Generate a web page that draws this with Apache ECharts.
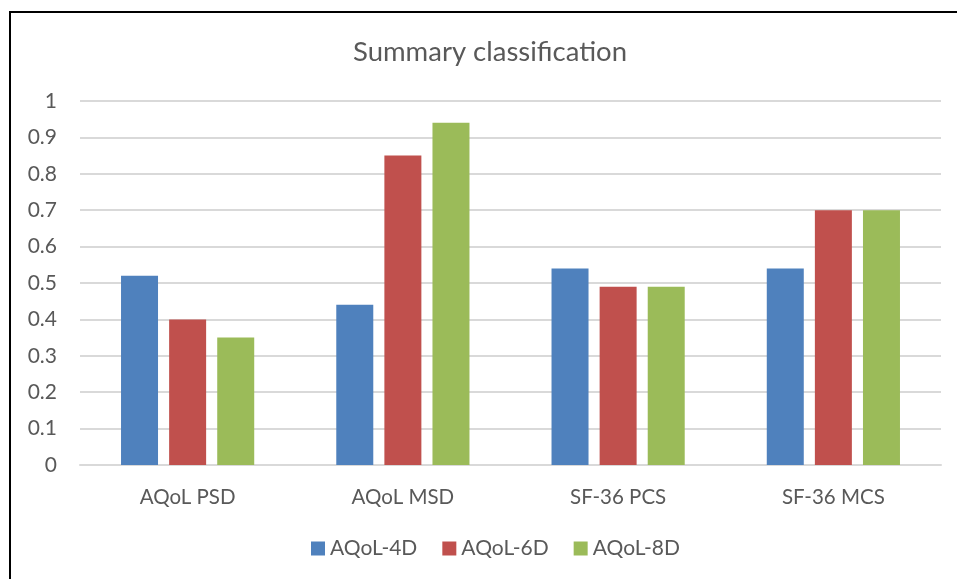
<!DOCTYPE html>
<html><head><meta charset="utf-8">
<script src="https://cdn.jsdelivr.net/npm/echarts@6/dist/echarts.min.js"></script>
<style>
html,body{margin:0;padding:0;background:#fff;overflow:hidden}
#frame{position:absolute;left:9px;top:11px;width:1000px;height:1000px;border-left:2px solid #000;border-top:2px solid #000}
#chart{position:absolute;left:0;top:0;width:957px;height:579px}
</style></head>
<body>
<div id="frame"></div>
<div id="chart"></div>
<script>
const categories = ['AQoL PSD','AQoL MSD','SF-36 PCS','SF-36 MCS'];
const aqol4d = [0.52, 0.44, 0.54, 0.54];
const aqol6d = [0.40, 0.85, 0.49, 0.70];
const aqol8d = [0.35, 0.94, 0.49, 0.70];
const seriesNames = ['AQoL-4D','AQoL-6D','AQoL-8D'];
const colors = ['#4f81bd','#c0504d','#9bbb59'];
const font = 'Lato, "Open Sans", sans-serif';
const chart = echarts.init(document.getElementById('chart'));
const txt = '#595959';
chart.setOption({
  animation:false,
  backgroundColor:'transparent',
  color: colors,
  title:{text:'Summary classification', left:348, top:33,
    textStyle:{fontFamily:font, fontSize:27.5, fontWeight:'normal', color:txt}},
  legend:{bottom:15, left:306, itemWidth:14, itemHeight:14, itemGap:25,
    icon:'rect', textStyle:{fontFamily:font, fontSize:21, color:txt},
    data: seriesNames},
  grid:{left:80, right:16, top:101, bottom:114, containLabel:false},
  xAxis:{type:'category', data:categories,
    axisLine:{lineStyle:{color:'#d9d9d9', width:2}}, axisTick:{show:false},
    axisLabel:{fontFamily:font, fontSize:20.5, color:txt, margin:22}},
  yAxis:{type:'value', min:0, max:1, interval:0.1,
    axisLine:{show:false}, axisTick:{show:false},
    splitLine:{lineStyle:{color:'#d9d9d9', width:2}},
    axisLabel:{fontFamily:font, fontSize:21, color:txt, margin:23,
      formatter:v=>String(Math.round(v*10)/10)}},
  series:[
    {name:seriesNames[0], type:'bar', data:aqol4d, barWidth:37, barGap:'30%'},
    {name:seriesNames[1], type:'bar', data:aqol6d, barWidth:37, barGap:'30%'},
    {name:seriesNames[2], type:'bar', data:aqol8d, barWidth:37, barGap:'30%'}
  ]
});
</script>
</body></html>
